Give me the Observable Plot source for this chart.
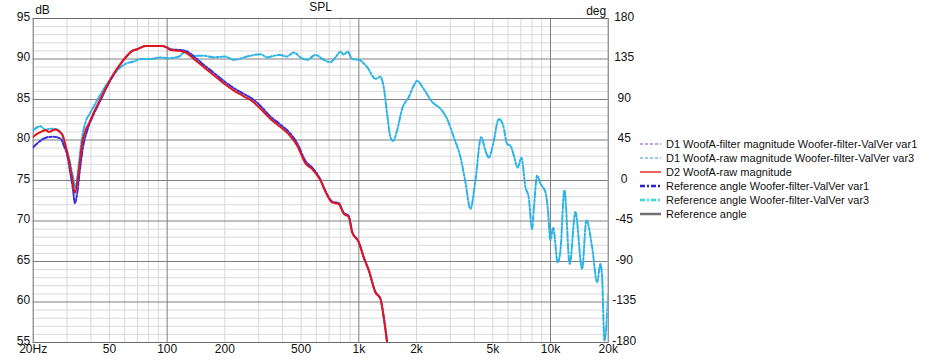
<!DOCTYPE html>
<html>
<head>
<meta charset="utf-8">
<script src="https://cdn.jsdelivr.net/npm/d3@7"></script>
<script src="https://cdn.jsdelivr.net/npm/@observablehq/plot@0.6"></script>
<style>
  html, body { margin: 0; padding: 0; background: #fff; }
  #wrap { position: relative; width: 932px; height: 360px; font-family: "Liberation Sans", Arial, sans-serif; }
  #legend { position: absolute; left: 640px; top: 137px; font-size: 11px; color: #111; }
  .row { display: flex; align-items: center; height: 14px; white-space: nowrap; }
  .row svg { margin-right: 5px; }
</style>
</head>
<body>
<div id="wrap"><div id="chart"></div><div id="legend"></div></div>
<script>
// ---- data ----
const redFreq = [20, 21.5, 23.2, 24.2, 26.1, 27.8, 28.5, 29.5, 30.7, 31.9, 33.0, 34.6, 36.0, 37.5, 39, 41.4, 44.9, 48.6, 52.7, 57.1, 61.8, 65.7, 69.7, 77, 85, 94, 100, 104, 117, 125, 138, 155, 175, 197, 223, 251, 278, 307, 346, 390, 431, 477, 527, 571, 631, 670, 726, 786, 834, 886, 923, 999, 1061, 1127, 1221, 1296, 1349, 1405];
const redDb   = [80.4, 80.9, 81.2, 81.0, 81.3, 80.9, 80.6, 79.3, 77.5, 75.4, 73.5, 76.2, 79.6, 81.2, 82.0, 83.4, 85.1, 86.7, 88.2, 89.4, 90.4, 91.0, 91.2, 91.6, 91.6, 91.6, 91.4, 91.1, 91.0, 90.8, 90.0, 89.0, 88.0, 87.0, 86.1, 85.4, 84.8, 83.85, 82.6, 81.6, 80.7, 79.3, 77.1, 76.4, 75.0, 73.6, 72.3, 72.1, 70.9, 70.5, 68.6, 67.4, 65.5, 63.9, 61.2, 60.4, 58.1, 55.0];

const blueFreq = [20, 21.8, 23.7, 25.6, 27.8, 28.9, 30.1, 31.3, 32.3, 33.0, 33.9, 35.0, 36.5, 38.3, 41.4, 44.9, 48.6, 52.7, 57.1, 61.8, 65.7, 69.7, 77, 85, 94, 100, 104, 117, 125, 138, 155, 175, 197, 223, 251, 278, 307, 346, 390, 431, 477, 527, 571, 631, 670, 726, 786, 834, 886, 923, 999, 1061, 1127, 1221, 1296, 1349, 1405];
const blueDb   = [79.1, 79.9, 80.35, 80.4, 80.15, 79.3, 78.1, 75.8, 73.8, 72.2, 73.4, 76.2, 79.3, 81.2, 83.2, 84.9, 86.6, 88.1, 89.4, 90.4, 91.0, 91.2, 91.6, 91.6, 91.6, 91.4, 91.2, 91.1, 91.0, 90.3, 89.3, 88.3, 87.3, 86.4, 85.7, 85.1, 84.2, 82.9, 81.9, 81.0, 79.6, 77.4, 76.6, 75.1, 73.7, 72.4, 72.2, 71.0, 70.6, 68.7, 67.4, 65.5, 63.9, 61.2, 60.4, 58.1, 55.0];

const cyanFreq = [20, 21.8, 23.2, 24.6, 26.1, 27.8, 28.9, 30.7, 32.3, 33.3, 34.6, 36.0, 37.5, 39.8, 43.1, 46.7, 50.6, 54.9, 60.6, 67, 72.6, 82, 92, 100, 108, 117, 124.6, 137.7, 155, 175, 200, 223, 261, 307, 332, 360, 390, 420, 458, 496, 537, 594, 656, 711, 755, 802, 834, 875, 923, 999, 1105, 1221, 1296, 1349, 1405, 1462, 1510, 1584, 1682, 1822, 1934, 2014, 2180, 2412, 2666, 2888, 3128, 3388, 3598, 3822, 4058, 4346, 4576, 4762, 5020, 5370, 5662, 5940, 6180, 6432, 6746, 7052, 7400, 7698, 8018, 8174, 8514, 8860, 9406, 9670, 9992, 10320, 10908, 11268, 11818, 12598, 13490, 14616, 15392, 16482, 17504, 18212, 18588, 19108, 20000];
const cyanDb   = [81.2, 81.7, 81.25, 81.4, 81.35, 81.0, 79.9, 77.9, 75.4, 74.2, 77.1, 80.35, 82.2, 83.4, 84.9, 86.3, 87.55, 88.6, 89.4, 89.7, 90.0, 90.0, 90.2, 90.1, 90.15, 90.4, 90.9, 90.4, 90.4, 90.2, 90.3, 89.9, 90.3, 90.6, 90.2, 90.4, 90.5, 90.3, 90.8, 90.2, 89.9, 90.5, 89.9, 89.6, 90.2, 90.9, 90.55, 90.9, 90.0, 89.9, 89.0, 87.55, 87.8, 86.5, 83.2, 80.35, 79.9, 81.2, 83.85, 85.3, 86.7, 87.3, 86.3, 84.7, 83.85, 82.6, 80.35, 77.9, 74.8, 71.5, 75.0, 80.35, 78.7, 77.8, 79.5, 82.6, 81.8, 79.5, 79.3, 78.1, 76.6, 77.8, 74.2, 72.9, 69.0, 71.3, 75.6, 74.6, 73.6, 71.7, 67.6, 69.2, 64.9, 66.35, 73.8, 64.7, 71.1, 64.1, 70.1, 66.8, 62.45, 64.7, 63.1, 55.25, 61.0];

const xTicks = [20, 50, 100, 200, 500, 1000, 2000, 5000, 10000, 20000];
const xTickLabels = ["20Hz", "50", "100", "200", "500", "1k", "2k", "5k", "10k", "20k"];
const xMinorGrid = [30, 40, 50, 60, 70, 80, 90, 200, 300, 400, 500, 600, 700, 800, 900, 2000, 3000, 4000, 5000, 6000, 7000, 8000, 9000];
const xMajorGrid = [100, 1000, 10000];
const yTicks = [55, 60, 65, 70, 75, 80, 85, 90, 95];
const yMinorGrid = d3.range(56, 95, 1).filter(v => v % 5 !== 0);
const degTicks = [-180, -135, -90, -45, 0, 45, 90, 135, 180];

const legendNames = [
  "D1 WoofA-filter magnitude Woofer-filter-ValVer var1",
  "D1 WoofA-raw magnitude Woofer-filter-ValVer var3",
  "D2 WoofA-raw magnitude",
  "Reference angle Woofer-filter-ValVer var1",
  "Reference angle Woofer-filter-ValVer var3",
  "Reference angle"
];
const legendColors = ["#8a3fd0", "#3f8fe0", "#e01010", "#2a1fd0", "#45dcd0", "#707070"];
const legendWidths = [1, 1, 1.3, 2.5, 2.5, 2.5];
const legendDash = ["3,2", "3,2", "none", "5,2,2,2", "5,2,2,2", "none"];

// ---- build ----
const red = redFreq.map((f, i) => ({f, v: redDb[i]}));
const blue = blueFreq.map((f, i) => ({f, v: blueDb[i]}));
const cyan = cyanFreq.map((f, i) => ({f, v: cyanDb[i]}));
const degToDb = d => 75 + d / 9;
const degAsDb = degTicks.map(degToDb);

const chart = Plot.plot({
  width: 932,
  height: 360,
  marginLeft: 32.7,
  marginRight: 324.3,
  marginTop: 18,
  marginBottom: 18,
  style: {fontFamily: "'Liberation Sans', Arial, sans-serif", fontSize: "12px", color: "#111", background: "#fff"},
  x: {type: "log", domain: [20, 20000], axis: null},
  y: {domain: [55, 95]},
  marks: [
    Plot.ruleY(yMinorGrid, {stroke: "#d9d9d9", strokeWidth: 1}),
    Plot.ruleX(xMinorGrid, {stroke: "#d9d9d9", strokeWidth: 1}),
    Plot.ruleY(yTicks, {stroke: "#7f7f7f", strokeWidth: 1}),
    Plot.ruleX(xMajorGrid, {stroke: "#7f7f7f", strokeWidth: 1}),
    Plot.frame({stroke: "#6a6a6a"}),
    Plot.line(cyan, {x: "f", y: "v", stroke: "#2db4e6", strokeWidth: 2, strokeDasharray: "6,2,2,2", curve: "monotone-x", clip: true}),
    Plot.line(blue, {x: "f", y: "v", stroke: "#3a2bd8", strokeWidth: 2, strokeDasharray: "6,2,2,2", curve: "monotone-x", clip: true}),
    Plot.line(red, {x: "f", y: "v", stroke: "#e0161c", strokeWidth: 2, curve: "monotone-x", clip: true}),
    Plot.text(xTicks, {x: d => d, frameAnchor: "bottom", dy: 10, text: (d, i) => xTickLabels[i], fill: "#111"}),
    Plot.axisY({ticks: yTicks, tickSize: 0, tickPadding: 3, dy: -1.5, tickFormat: d => String(d), label: null}),
    Plot.axisY({anchor: "right", ticks: degAsDb, tickSize: 0, tickPadding: 16, dy: -1.5, textAnchor: "middle", tickFormat: d => String(Math.round((d - 75) * 9)), label: null}),
    Plot.text(["dB"], {frameAnchor: "top-left", dx: 2, dy: -13, text: d => d, textAnchor: "start"}),
    Plot.text(["SPL"], {frameAnchor: "top", dy: -16, dx: 0, text: d => d}),
    Plot.text(["deg"], {frameAnchor: "top-right", dx: -2, dy: -12, text: d => d, textAnchor: "end"})
  ]
});
document.getElementById("chart").appendChild(chart);

// legend
const leg = document.getElementById("legend");
legendNames.forEach((name, i) => {
  const row = document.createElement("div");
  row.className = "row";
  row.innerHTML = `<svg width="21" height="14"><line x1="0" x2="21" y1="7" y2="7" stroke="${legendColors[i]}" stroke-width="${legendWidths[i]}" stroke-dasharray="${legendDash[i]}"/></svg>`;
  const span = document.createElement("span");
  span.textContent = name;
  row.appendChild(span);
  leg.appendChild(row);
});
</script>
</body>
</html>
